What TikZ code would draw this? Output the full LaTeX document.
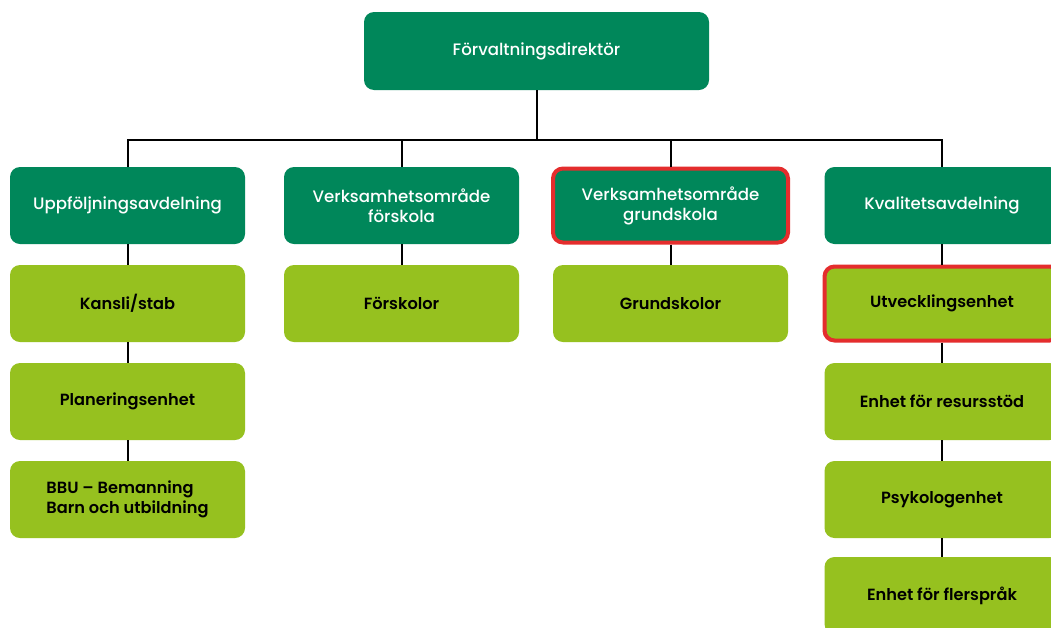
\documentclass[tikz,border=0pt]{standalone}
\usepackage{fontspec}
\setmainfont{Poppins}
\newfontfamily\medfont{Poppins Medium}
\newfontfamily\semifont{Poppins SemiBold}
\definecolor{dgreen}{RGB}{0,135,90}
\definecolor{lgreen}{RGB}{150,193,31}
\definecolor{hred}{RGB}{228,45,45}
\begin{document}
\begin{tikzpicture}[x=1pt,y=-1pt,
  box/.style={rounded corners=10pt,minimum width=235pt,minimum height=77pt,align=center,inner sep=2pt},
  dbox/.style={box,fill=dgreen,text=white,font=\fontsize{16.6}{20}\selectfont\medfont},
  lbox/.style={box,fill=lgreen,text=black,font=\fontsize{16.2}{20}\selectfont\semifont},
  hl/.style={draw=hred,line width=4pt},
  conn/.style={draw=black,line width=2pt}]
\useasboundingbox (0,0) rectangle (1051,627);
\clip (0,0) rectangle (1051,627);
\fill[white] (0,0) rectangle (1051,627);
% top
\node[dbox,minimum width=345pt,minimum height=78pt] (top) at (536.5,51) {Förvaltningsdirektör};
% level 2
\node[dbox] (a) at (127.5,205.5) {Uppföljningsavdelning};
\node[dbox] (b) at (401.5,205.5) {Verksamhetsområde\\förskola};
\node[dbox,hl,minimum width=235pt,minimum height=74pt] (c) at (670.5,205.5) {Verksamhetsområde\\grundskola};
\node[dbox] (d) at (942,205.5) {Kvalitetsavdelning};
% column a
\node[lbox] (a1) at (127.5,303.5) {Kansli/stab};
\node[lbox] (a2) at (127.5,401.5) {Planeringsenhet};
\node[lbox,align=left] (a3) at (127.5,499.5) {BBU – Bemanning\\Barn och utbildning};
% column b
\node[lbox] (b1) at (401.5,303.5) {Förskolor};
% column c
\node[lbox] (c1) at (670.5,303.5) {Grundskolor};
% column d
\node[lbox,hl,minimum width=235pt,minimum height=74pt] (d1) at (942,303.5) {Utvecklingsenhet};
\node[lbox] (d2) at (942,401.5) {Enhet för resursstöd};
\node[lbox] (d3) at (942,499.5) {Psykologenhet};
\node[lbox] (d4) at (942,595.5) {Enhet för flerspråk};
% connectors
\coordinate (bus) at (0,140);
\draw[conn] (top.south) -- (top.south |- bus) -| (a.north);
\draw[conn] (top.south |- bus) -| (b.north);
\draw[conn] (top.south |- bus) -| (c.north);
\draw[conn] (top.south |- bus) -| (d.north);
\draw[conn] (a.south) -- (a1.north);
\draw[conn] (a1.south) -- (a2.north);
\draw[conn] (a2.south) -- (a3.north);
\draw[conn] (b.south) -- (b1.north);
\draw[conn] (c.south) -- (c1.north);
\draw[conn] (d.south) -- (d1.north);
\draw[conn] (d1.south) -- (d2.north);
\draw[conn] (d2.south) -- (d3.north);
\draw[conn] (d3.south) -- (d4.north);
\end{tikzpicture}
\end{document}
